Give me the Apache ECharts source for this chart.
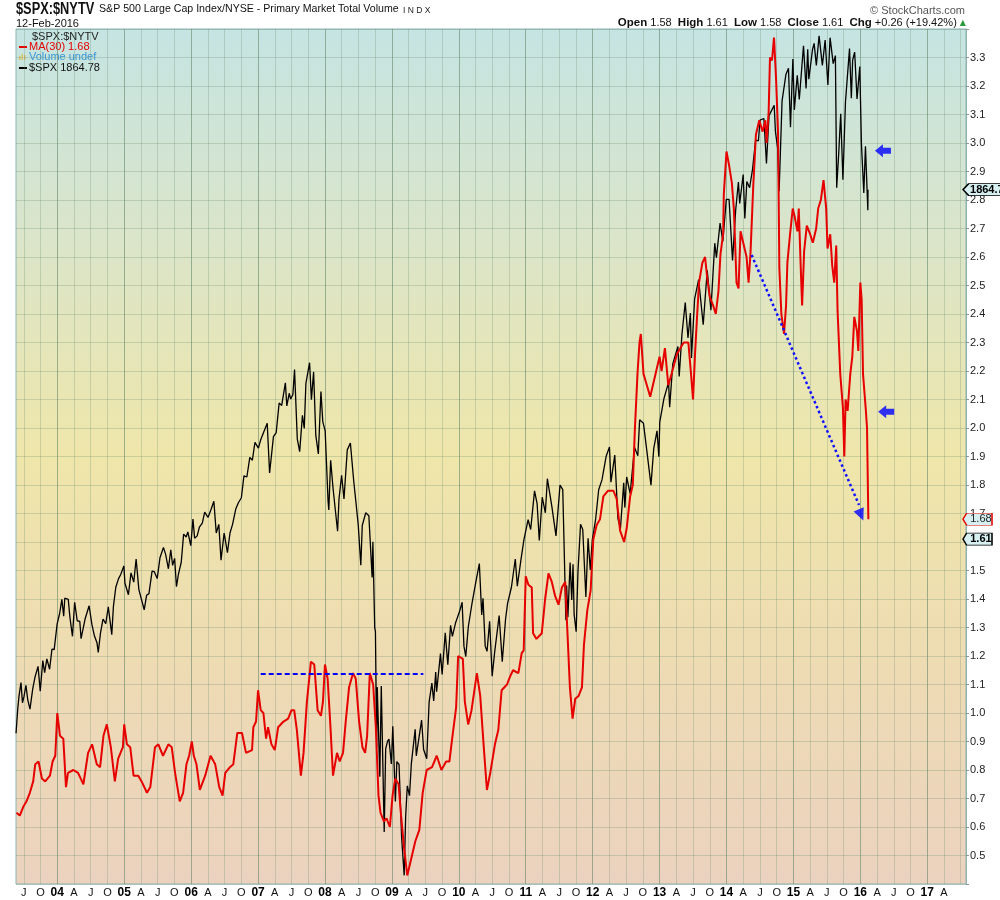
<!DOCTYPE html>
<html lang="en">
<head>
    <meta charset="UTF-8">
    <title>$SPX:$NYTV</title>
    <style>
        * { margin: 0; padding: 0; }
        html, body, #chart { width: 1000px; height: 900px; overflow: hidden; background: #fff; }
    </style>
</head>
<body>
    <div id="chart"></div>
    <script src="https://cdn.jsdelivr.net/npm/echarts@6/dist/echarts.min.js"></script>
    <script>
        // x axis runs in decimal years, quarter labels start at Jul 2003
        const xMin = 2003.383;
        const xMax = 2017.579;
        const firstQuarter = 2003.5;
        const quarterLabels = ['J', 'O',
            '04', 'A', 'J', 'O', '05', 'A', 'J', 'O', '06', 'A', 'J', 'O', '07', 'A', 'J', 'O',
            '08', 'A', 'J', 'O', '09', 'A', 'J', 'O', '10', 'A', 'J', 'O', '11', 'A', 'J', 'O',
            '12', 'A', 'J', 'O', '13', 'A', 'J', 'O', '14', 'A', 'J', 'O', '15', 'A', 'J', 'O',
            '16', 'A', 'J', 'O', '17', 'A'];
        const yearLines = [2004, 2005, 2006, 2007, 2008, 2009, 2010, 2011, 2012, 2013, 2014, 2015, 2016, 2017];

        // MA(30) of $SPX:$NYTV  [decimal year, value]
        const ma30 = [
            [2003.39, 0.65], [2003.44, 0.64], [2003.49, 0.67], [2003.54, 0.69], [2003.59, 0.72], [2003.64, 0.76],
            [2003.67, 0.82], [2003.72, 0.83], [2003.77, 0.77], [2003.82, 0.76], [2003.89, 0.78], [2003.93, 0.83],
            [2003.97, 0.85], [2004.00, 1.00], [2004.04, 0.92], [2004.09, 0.91], [2004.13, 0.74], [2004.16, 0.79],
            [2004.24, 0.80], [2004.31, 0.79], [2004.39, 0.75], [2004.46, 0.86], [2004.52, 0.89], [2004.59, 0.82],
            [2004.64, 0.81], [2004.69, 0.92], [2004.74, 0.96], [2004.80, 0.88], [2004.86, 0.76], [2004.91, 0.84],
            [2004.98, 0.88], [2005.00, 0.96], [2005.04, 0.89], [2005.09, 0.88], [2005.14, 0.78], [2005.21, 0.78],
            [2005.26, 0.76], [2005.34, 0.72], [2005.39, 0.74], [2005.46, 0.88], [2005.51, 0.89], [2005.58, 0.85],
            [2005.66, 0.89], [2005.71, 0.88], [2005.76, 0.79], [2005.83, 0.69], [2005.88, 0.72], [2005.93, 0.82],
            [2005.97, 0.85], [2006.01, 0.90], [2006.04, 0.85], [2006.08, 0.82], [2006.13, 0.73], [2006.21, 0.78],
            [2006.29, 0.85], [2006.36, 0.82], [2006.42, 0.74], [2006.47, 0.71], [2006.51, 0.79], [2006.58, 0.81],
            [2006.63, 0.82], [2006.69, 0.93], [2006.76, 0.93], [2006.82, 0.86], [2006.91, 0.87], [2006.93, 0.95],
            [2006.97, 0.97], [2007.00, 1.08], [2007.04, 1.01], [2007.08, 1.00], [2007.12, 0.91], [2007.15, 0.95],
            [2007.20, 0.89], [2007.25, 0.87], [2007.30, 0.95], [2007.38, 0.97], [2007.45, 0.98], [2007.50, 1.01],
            [2007.54, 1.01], [2007.58, 0.94], [2007.64, 0.78], [2007.68, 0.86], [2007.73, 1.04], [2007.79, 1.18],
            [2007.84, 1.17], [2007.89, 1.01], [2007.94, 0.99], [2007.97, 1.04], [2008.00, 1.17], [2008.04, 1.12],
            [2008.08, 0.96], [2008.12, 0.78], [2008.18, 0.86], [2008.22, 0.83], [2008.27, 0.86], [2008.31, 0.97],
            [2008.36, 1.09], [2008.42, 1.14], [2008.46, 1.12], [2008.51, 0.97], [2008.56, 0.88], [2008.60, 0.86],
            [2008.63, 0.92], [2008.67, 1.14], [2008.72, 1.10], [2008.76, 0.95], [2008.80, 0.71], [2008.83, 0.65],
            [2008.88, 0.62], [2008.92, 0.63], [2008.97, 0.60], [2009.01, 0.71], [2009.05, 0.77], [2009.10, 0.75],
            [2009.13, 0.66], [2009.18, 0.53], [2009.23, 0.43], [2009.28, 0.48], [2009.35, 0.55], [2009.41, 0.59],
            [2009.46, 0.72], [2009.52, 0.80], [2009.60, 0.81], [2009.67, 0.85], [2009.74, 0.80], [2009.81, 0.83],
            [2009.86, 0.83], [2009.89, 0.89], [2009.96, 1.02], [2009.99, 1.20], [2010.06, 1.19], [2010.09, 1.04],
            [2010.14, 0.96], [2010.19, 1.01], [2010.27, 1.14], [2010.32, 1.06], [2010.37, 0.89], [2010.42, 0.73],
            [2010.47, 0.79], [2010.54, 0.89], [2010.59, 0.94], [2010.64, 1.08], [2010.72, 1.10], [2010.77, 1.13],
            [2010.81, 1.15], [2010.89, 1.14], [2010.94, 1.21], [2010.97, 1.22], [2011.00, 1.48], [2011.04, 1.45],
            [2011.09, 1.44], [2011.11, 1.28], [2011.16, 1.26], [2011.24, 1.28], [2011.29, 1.40], [2011.34, 1.49],
            [2011.39, 1.46], [2011.44, 1.41], [2011.49, 1.38], [2011.54, 1.44], [2011.59, 1.46], [2011.62, 1.30],
            [2011.66, 1.09], [2011.70, 0.98], [2011.74, 1.05], [2011.79, 1.06], [2011.84, 1.09], [2011.87, 1.24],
            [2011.92, 1.36], [2011.97, 1.43], [2012.01, 1.61], [2012.06, 1.66], [2012.11, 1.68], [2012.16, 1.76],
            [2012.23, 1.78], [2012.31, 1.78], [2012.36, 1.75], [2012.41, 1.64], [2012.47, 1.60], [2012.51, 1.65],
            [2012.56, 1.76], [2012.60, 1.80], [2012.63, 1.99], [2012.67, 2.19], [2012.70, 2.30], [2012.72, 2.33],
            [2012.76, 2.19], [2012.81, 2.15], [2012.86, 2.11], [2012.91, 2.16], [2012.95, 2.20], [2013.00, 2.25],
            [2013.03, 2.20], [2013.08, 2.28], [2013.13, 2.15], [2013.18, 2.19], [2013.26, 2.26], [2013.31, 2.28],
            [2013.36, 2.30], [2013.43, 2.30], [2013.47, 2.19], [2013.50, 2.10], [2013.53, 2.26], [2013.56, 2.39],
            [2013.59, 2.51], [2013.64, 2.58], [2013.68, 2.60], [2013.71, 2.53], [2013.75, 2.46], [2013.80, 2.43],
            [2013.84, 2.40], [2013.88, 2.48], [2013.91, 2.61], [2013.95, 2.68], [2013.96, 2.82], [2014.00, 2.97],
            [2014.04, 2.92], [2014.08, 2.86], [2014.11, 2.77], [2014.15, 2.51], [2014.18, 2.49], [2014.21, 2.69],
            [2014.25, 2.65], [2014.30, 2.60], [2014.33, 2.51], [2014.36, 2.62], [2014.40, 2.85], [2014.44, 3.03],
            [2014.49, 3.08], [2014.54, 3.04], [2014.58, 3.08], [2014.60, 3.00], [2014.63, 3.11], [2014.65, 3.30],
            [2014.68, 3.29], [2014.71, 3.37], [2014.74, 3.23], [2014.77, 3.04], [2014.79, 2.56], [2014.82, 2.40],
            [2014.86, 2.33], [2014.89, 2.43], [2014.91, 2.58], [2014.95, 2.68], [2014.99, 2.77], [2015.02, 2.74],
            [2015.06, 2.69], [2015.08, 2.77], [2015.11, 2.56], [2015.13, 2.43], [2015.16, 2.62], [2015.20, 2.71],
            [2015.25, 2.68], [2015.29, 2.65], [2015.34, 2.70], [2015.37, 2.77], [2015.41, 2.80], [2015.45, 2.87],
            [2015.49, 2.77], [2015.51, 2.63], [2015.55, 2.68], [2015.58, 2.57], [2015.61, 2.51], [2015.64, 2.64],
            [2015.66, 2.41], [2015.70, 2.19], [2015.74, 2.07], [2015.76, 1.90], [2015.78, 2.10], [2015.81, 2.06],
            [2015.85, 2.19], [2015.88, 2.25], [2015.91, 2.39], [2015.95, 2.34], [2015.97, 2.27], [2016.00, 2.51],
            [2016.02, 2.45], [2016.04, 2.19], [2016.08, 2.07], [2016.10, 2.00], [2016.12, 1.68]
        ];

        // $SPX close, plotted on its own hidden scale
        const spx = [
            ['2003-05-21', 923], ['2003-05-30', 964], ['2003-06-06', 987], ['2003-06-17', 1011], ['2003-06-25', 976],
            ['2003-07-03', 986], ['2003-07-14', 1006], ['2003-07-24', 981], ['2003-08-05', 965], ['2003-08-20', 1000],
            ['2003-09-02', 1021], ['2003-09-18', 1039], ['2003-09-30', 996], ['2003-10-14', 1049], ['2003-10-24', 1028],
            ['2003-11-05', 1052], ['2003-11-20', 1034], ['2003-12-03', 1069], ['2003-12-15', 1068], ['2003-12-31', 1112],
            ['2004-01-14', 1131], ['2004-01-26', 1155], ['2004-02-05', 1126], ['2004-02-11', 1157], ['2004-03-01', 1155],
            ['2004-03-10', 1124], ['2004-03-24', 1091], ['2004-04-05', 1150], ['2004-04-19', 1118], ['2004-05-03', 1117],
            ['2004-05-10', 1087], ['2004-05-17', 1084], ['2004-06-01', 1121], ['2004-06-23', 1144], ['2004-07-08', 1112],
            ['2004-07-21', 1093], ['2004-08-05', 1080], ['2004-08-12', 1063], ['2004-08-24', 1096], ['2004-09-07', 1121],
            ['2004-09-22', 1113], ['2004-10-06', 1142], ['2004-10-25', 1094], ['2004-11-03', 1143], ['2004-11-16', 1176],
            ['2004-12-01', 1191], ['2004-12-13', 1198], ['2004-12-30', 1213], ['2005-01-05', 1183], ['2005-01-24', 1163],
            ['2005-02-07', 1201], ['2005-02-22', 1185], ['2005-03-07', 1225], ['2005-03-22', 1172], ['2005-04-01', 1173],
            ['2005-04-20', 1137], ['2005-05-03', 1162], ['2005-05-16', 1165], ['2005-06-02', 1204], ['2005-06-14', 1203],
            ['2005-06-30', 1191], ['2005-07-15', 1227], ['2005-08-03', 1245], ['2005-08-15', 1233], ['2005-08-30', 1208],
            ['2005-09-12', 1241], ['2005-09-22', 1214], ['2005-10-03', 1226], ['2005-10-13', 1177], ['2005-10-24', 1199],
            ['2005-11-08', 1219], ['2005-11-21', 1268], ['2005-12-05', 1263], ['2005-12-14', 1272], ['2005-12-30', 1248],
            ['2006-01-11', 1294], ['2006-01-20', 1261], ['2006-02-03', 1265], ['2006-02-15', 1280], ['2006-03-03', 1287],
            ['2006-03-16', 1306], ['2006-04-03', 1297], ['2006-04-20', 1311], ['2006-05-05', 1325], ['2006-05-18', 1270],
            ['2006-06-01', 1285], ['2006-06-13', 1223], ['2006-06-30', 1270], ['2006-07-18', 1236], ['2006-08-01', 1270],
            ['2006-08-15', 1285], ['2006-09-01', 1311], ['2006-09-15', 1322], ['2006-10-02', 1331], ['2006-10-16', 1369],
            ['2006-11-01', 1367], ['2006-11-17', 1401], ['2006-12-01', 1396], ['2006-12-15', 1427], ['2007-01-03', 1417],
            ['2007-01-15', 1431], ['2007-02-01', 1445], ['2007-02-20', 1460], ['2007-03-05', 1374], ['2007-03-14', 1377],
            ['2007-03-26', 1437], ['2007-04-10', 1444], ['2007-04-26', 1495], ['2007-05-10', 1491], ['2007-05-30', 1530],
            ['2007-06-07', 1490], ['2007-06-20', 1512], ['2007-06-28', 1502], ['2007-07-10', 1510], ['2007-07-19', 1553],
            ['2007-08-03', 1433], ['2007-08-16', 1411], ['2007-08-31', 1474], ['2007-09-10', 1451], ['2007-09-19', 1529],
            ['2007-10-09', 1565], ['2007-10-19', 1501], ['2007-10-31', 1549], ['2007-11-12', 1439], ['2007-11-26', 1407],
            ['2007-12-10', 1515], ['2007-12-20', 1463], ['2008-01-02', 1447], ['2008-01-18', 1325], ['2008-01-22', 1310],
            ['2008-02-01', 1396], ['2008-02-14', 1348], ['2008-03-10', 1273], ['2008-03-18', 1330], ['2008-04-01', 1370],
            ['2008-04-14', 1329], ['2008-05-02', 1414], ['2008-05-19', 1426], ['2008-06-06', 1361], ['2008-06-20', 1318],
            ['2008-07-01', 1284], ['2008-07-15', 1214], ['2008-07-23', 1283], ['2008-08-11', 1305], ['2008-08-28', 1300],
            ['2008-09-15', 1193], ['2008-09-19', 1255], ['2008-09-29', 1106], ['2008-10-03', 1099], ['2008-10-10', 899],
            ['2008-10-13', 1003], ['2008-10-27', 848], ['2008-11-04', 1005], ['2008-11-20', 752], ['2008-11-28', 896],
            ['2008-12-08', 909], ['2008-12-16', 913], ['2008-12-29', 870], ['2009-01-06', 935], ['2009-01-20', 805],
            ['2009-01-28', 874], ['2009-02-09', 869], ['2009-02-23', 743], ['2009-03-09', 677], ['2009-03-17', 778],
            ['2009-03-26', 832], ['2009-04-07', 815], ['2009-04-17', 870], ['2009-05-08', 930], ['2009-05-14', 884],
            ['2009-06-12', 946], ['2009-06-23', 895], ['2009-07-10', 879], ['2009-07-23', 977], ['2009-08-07', 1010],
            ['2009-08-17', 979], ['2009-08-28', 1029], ['2009-09-02', 995], ['2009-09-23', 1061], ['2009-10-02', 1025],
            ['2009-10-19', 1097], ['2009-11-02', 1042], ['2009-11-17', 1110], ['2009-11-27', 1091], ['2009-12-14', 1114],
            ['2010-01-04', 1133], ['2010-01-19', 1150], ['2010-01-29', 1074], ['2010-02-08', 1056], ['2010-02-22', 1108],
            ['2010-03-15', 1150], ['2010-04-05', 1187], ['2010-04-23', 1217], ['2010-05-06', 1128], ['2010-05-13', 1157],
            ['2010-05-25', 1074], ['2010-06-04', 1065], ['2010-06-18', 1117], ['2010-07-02', 1022], ['2010-07-16', 1065],
            ['2010-08-09', 1127], ['2010-08-26', 1047], ['2010-09-13', 1121], ['2010-09-24', 1148], ['2010-10-15', 1176],
            ['2010-11-05', 1225], ['2010-11-16', 1178], ['2010-12-06', 1224], ['2010-12-22', 1258], ['2011-01-14', 1293],
            ['2011-01-28', 1276], ['2011-02-18', 1343], ['2011-03-04', 1321], ['2011-03-16', 1257], ['2011-04-01', 1332],
            ['2011-04-18', 1305], ['2011-04-29', 1364], ['2011-05-23', 1317], ['2011-06-15', 1265], ['2011-06-24', 1268],
            ['2011-07-07', 1353], ['2011-07-22', 1345], ['2011-08-08', 1119], ['2011-08-12', 1179], ['2011-08-19', 1124],
            ['2011-08-31', 1219], ['2011-09-09', 1154], ['2011-09-16', 1216], ['2011-09-22', 1129], ['2011-10-03', 1099],
            ['2011-10-13', 1204], ['2011-10-27', 1285], ['2011-11-08', 1276], ['2011-11-25', 1159], ['2011-12-07', 1261],
            ['2011-12-19', 1206], ['2011-12-30', 1258], ['2012-01-17', 1293], ['2012-02-03', 1345], ['2012-02-21', 1362],
            ['2012-03-15', 1403], ['2012-04-02', 1419], ['2012-04-10', 1358], ['2012-05-01', 1405], ['2012-05-18', 1295],
            ['2012-06-01', 1278], ['2012-06-19', 1357], ['2012-06-25', 1314], ['2012-07-05', 1367], ['2012-07-24', 1338],
            ['2012-08-17', 1418], ['2012-09-04', 1404], ['2012-09-14', 1466], ['2012-10-05', 1460], ['2012-10-23', 1413],
            ['2012-11-15', 1353], ['2012-11-30', 1416], ['2012-12-18', 1447], ['2012-12-28', 1402], ['2013-01-02', 1462],
            ['2013-01-25', 1503], ['2013-02-19', 1531], ['2013-02-25', 1488], ['2013-03-14', 1563], ['2013-04-11', 1593],
            ['2013-04-18', 1541], ['2013-05-03', 1614], ['2013-05-21', 1669], ['2013-06-05', 1608], ['2013-06-18', 1651],
            ['2013-06-24', 1573], ['2013-07-11', 1675], ['2013-08-02', 1709], ['2013-08-27', 1631], ['2013-09-18', 1725],
            ['2013-10-08', 1656], ['2013-10-29', 1772], ['2013-11-07', 1747], ['2013-11-27', 1807], ['2013-12-12', 1775],
            ['2013-12-31', 1848], ['2014-01-15', 1848], ['2014-02-03', 1742], ['2014-02-20', 1829], ['2014-03-07', 1878],
            ['2014-03-14', 1841], ['2014-04-02', 1891], ['2014-04-11', 1815], ['2014-04-22', 1879], ['2014-05-07', 1868],
            ['2014-05-23', 1900], ['2014-06-09', 1951], ['2014-06-24', 1949], ['2014-07-03', 1985], ['2014-07-24', 1988],
            ['2014-08-07', 1910], ['2014-08-21', 1993], ['2014-09-18', 2011], ['2014-09-25', 1965], ['2014-10-07', 1936],
            ['2014-10-15', 1862], ['2014-10-31', 2018], ['2014-11-21', 2064], ['2014-12-05', 2075], ['2014-12-16', 1973],
            ['2014-12-29', 2091], ['2015-01-06', 2003], ['2015-01-22', 2063], ['2015-02-02', 2021], ['2015-02-25', 2114],
            ['2015-03-02', 2117], ['2015-03-11', 2040], ['2015-03-20', 2108], ['2015-03-26', 2056], ['2015-04-15', 2107],
            ['2015-04-24', 2118], ['2015-05-06', 2080], ['2015-05-21', 2131], ['2015-06-08', 2080], ['2015-06-23', 2124],
            ['2015-07-08', 2046], ['2015-07-20', 2128], ['2015-08-06', 2083], ['2015-08-18', 2097], ['2015-08-25', 1868],
            ['2015-09-04', 1921], ['2015-09-16', 1996], ['2015-09-28', 1882], ['2015-10-12', 2017], ['2015-11-03', 2109],
            ['2015-11-13', 2023], ['2015-11-20', 2089], ['2015-12-01', 2103], ['2015-12-14', 2022], ['2015-12-29', 2078],
            ['2016-01-07', 1944], ['2016-01-20', 1859], ['2016-01-29', 1940], ['2016-02-11', 1829], ['2016-02-12', 1864.78]
        ];

        // hand drawn annotations (blue)
        const flatLine = [[2007.04, 1.137], [2009.47, 1.137]];
        const slopeLine = [[2014.376, 2.607], [2015.98, 1.73]];
        const slopeHead = [[2016.01, 1.695]];
        const arrows = [[2016.338, 2.973], [2016.386, 2.057]];

        const lastMA = 1.68;
        const lastClose = 1.61;
        const lastSPX = 1864.78;

        function decYear(s) {
            const p = s.split('-').map(Number);
            const t = Date.UTC(p[0], p[1] - 1, p[2]);
            const a = Date.UTC(p[0], 0, 1);
            const b = Date.UTC(p[0] + 1, 0, 1);
            return p[0] + (t - a) / (b - a);
        }

        const quarterValues = quarterLabels.map((_, i) => firstQuarter + i * 0.25);
        const tickValues = quarterValues.concat([firstQuarter + quarterLabels.length * 0.25]);

        const tagPath = 'path://M0,6 L5,0 L40,0 L40,12 L5,12 Z';
        const arrowPath = 'path://M0,6.5 L8,0 L8,3.5 L16,3.5 L16,9.5 L8,9.5 L8,13 Z';

        function tag(value, text, border, bold, width, textColor) {
            return {
                coord: [xMax, value],
                symbol: tagPath,
                symbolSize: [width, 12],
                symbolOffset: [width / 2 - 3, 0],
                itemStyle: { color: '#d6f0f2', borderColor: border, borderWidth: 1 },
                label: {
                    show: true,
                    position: 'insideLeft',
                    offset: [3, 0],
                    formatter: text,
                    color: textColor,
                    fontFamily: 'Liberation Sans',
                    fontSize: 11,
                    fontWeight: bold ? 'bold' : 'normal'
                }
            };
        }

        let chart = echarts.init(document.getElementById('chart'));

        let option = {
            animation: false,
            backgroundColor: '#ffffff',
            grid: {
                left: 16,
                right: 34,
                top: 29,
                bottom: 16,
                show: true,
                borderColor: '#8db3b3',
                borderWidth: 1,
                backgroundColor: new echarts.graphic.LinearGradient(0, 0, 0, 1, [
                    { offset: 0, color: '#c5e4e2' },
                    { offset: 0.25, color: '#dbe5c9' },
                    { offset: 0.5, color: '#efe6aa' },
                    { offset: 0.72, color: '#eedcb2' },
                    { offset: 1, color: '#ebd2bf' }
                ])
            },
            xAxis: [{
                type: 'value',
                min: xMin,
                max: xMax,
                axisLine: { show: false },
                axisTick: { show: false, customValues: tickValues },
                axisLabel: {
                    customValues: quarterValues,
                    margin: 3,
                    fontFamily: 'Liberation Sans',
                    fontSize: 11,
                    color: '#111',
                    formatter: function(v) {
                        let i = Math.round((v - firstQuarter) / 0.25);
                        let s = quarterLabels[i] || '';
                        return s.length === 2 ? '{y|' + s + '}' : s;
                    },
                    rich: { y: { fontWeight: 'bold', fontSize: 12, fontFamily: 'Liberation Sans', color: '#000' } }
                },
                splitLine: { show: true, lineStyle: { color: 'rgba(105,140,110,0.28)', width: 1 } }
            }, {
                type: 'value',
                min: xMin,
                max: xMax,
                position: 'top',
                axisLine: { show: false },
                axisTick: { show: false, customValues: yearLines },
                axisLabel: { show: false, customValues: yearLines },
                splitLine: { show: true, lineStyle: { color: 'rgba(95,130,100,0.42)', width: 1 } }
            }],
            yAxis: [{
                type: 'value',
                position: 'right',
                min: 0.4,
                max: 3.4,
                interval: 0.1,
                axisLine: { show: true, lineStyle: { color: '#8db3b3' } },
                axisTick: { show: true, length: 3, lineStyle: { color: '#8a9a9a' } },
                axisLabel: {
                    margin: 4,
                    fontFamily: 'Liberation Sans',
                    fontSize: 11,
                    color: '#222',
                    formatter: function(v) {
                        return (v < 0.45 || v > 3.35) ? '' : v.toFixed(1);
                    }
                },
                splitLine: { show: true, lineStyle: { color: 'rgba(105,140,110,0.28)', width: 1 } }
            }, {
                type: 'value',
                min: 662,
                max: 2143,
                show: false,
                splitLine: { show: false }
            }],
            series: [{
                name: '$SPX',
                type: 'line',
                yAxisIndex: 1,
                data: spx.map(d => [decYear(d[0]), d[1]]),
                symbol: 'none',
                lineStyle: { color: '#000', width: 1.3 },
                markPoint: {
                    silent: true,
                    data: [tag(lastSPX, '1864.78', '#000', true, 46, '#000')]
                },
                z: 3
            }, {
                name: 'MA(30)',
                type: 'line',
                data: ma30,
                symbol: 'none',
                lineStyle: { color: '#e60000', width: 2 },
                markPoint: {
                    silent: true,
                    data: [
                        tag(lastMA, '1.68', '#e60000', false, 29, '#222'),
                        tag(lastClose, '1.61', '#000', true, 29, '#000')
                    ]
                },
                z: 4
            }, {
                type: 'line',
                data: flatLine,
                symbol: 'none',
                lineStyle: { color: '#0000ff', width: 2, type: [5, 3] },
                z: 5
            }, {
                type: 'line',
                data: slopeLine,
                symbol: 'none',
                lineStyle: { color: '#1010ff', width: 2.5, type: [2.5, 2.8] },
                z: 5
            }, {
                type: 'scatter',
                data: slopeHead,
                symbol: 'triangle',
                symbolSize: [11, 12],
                symbolRotate: -157,
                itemStyle: { color: '#0000ff' },
                z: 5
            }, {
                type: 'scatter',
                data: arrows,
                symbol: arrowPath,
                symbolSize: [16, 13],
                itemStyle: { color: '#0000ff' },
                z: 5
            }],
            graphic: [
                { type: 'text', left: 16, top: 2, scaleX: 0.8, style: { text: '$SPX:$NYTV', font: 'bold 16px "Liberation Sans"', fill: '#111' } },
                { type: 'text', left: 99, top: 4, style: { text: 'S&P 500 Large Cap Index/NYSE - Primary Market Total Volume', font: '10.6px "Liberation Sans"', fill: '#111' } },
                { type: 'text', left: 403, top: 6, style: { text: 'I N D X', font: '8.5px "Liberation Sans"', fill: '#222' } },
                { type: 'text', left: 16, top: 18, style: { text: '12-Feb-2016', font: '11px "Liberation Sans"', fill: '#111' } },
                { type: 'text', right: 35, top: 5, style: { text: '© StockCharts.com', font: '11px "Liberation Sans"', fill: '#555' } },
                {
                    type: 'text', right: 34, top: 17,
                    style: {
                        text: '{b|Open} 1.58  {b|High} 1.61  {b|Low} 1.58  {b|Close} 1.61  {b|Chg} +0.26 (+19.42%) {g|▲}',
                        font: '11px "Liberation Sans"',
                        fill: '#111',
                        rich: {
                            b: { fontWeight: 'bold', fontSize: 11.5, fontFamily: 'Liberation Sans', fill: '#111' },
                            g: { fontSize: 8, fill: '#2e9a3e', fontFamily: 'DejaVu Sans' }
                        }
                    }
                },
                { type: 'text', left: 32, top: 31, style: { text: '$SPX:$NYTV', font: '11px "Liberation Sans"', fill: '#222' } },
                { type: 'rect', left: 19, top: 46, shape: { width: 8, height: 2 }, style: { fill: '#e60000' } },
                { type: 'text', left: 29, top: 41, style: { text: 'MA(30) 1.68', font: '11px "Liberation Sans"', fill: '#e60000' } },
                { type: 'rect', left: 19, top: 56, shape: { width: 1.5, height: 4 }, style: { fill: '#dcc266' } },
                { type: 'rect', left: 21.5, top: 54, shape: { width: 1.5, height: 6 }, style: { fill: '#dcc266' } },
                { type: 'rect', left: 24, top: 55, shape: { width: 1.5, height: 5 }, style: { fill: '#dcc266' } },
                { type: 'text', left: 29, top: 51.5, style: { text: 'Volume undef', font: '11px "Liberation Sans"', fill: '#3a96d6' } },
                { type: 'rect', left: 19, top: 67, shape: { width: 8, height: 2 }, style: { fill: '#000' } },
                { type: 'text', left: 29, top: 62, style: { text: '$SPX 1864.78', font: '11px "Liberation Sans"', fill: '#111' } }
            ]
        };

        chart.setOption(option);
    </script>
</body>
</html>
